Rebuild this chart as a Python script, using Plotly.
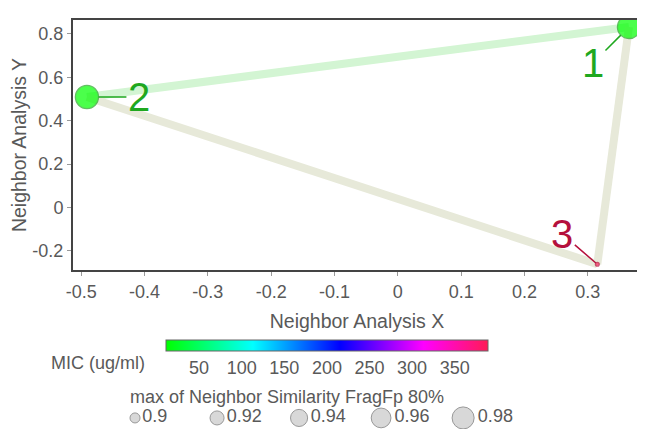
import math
import plotly.graph_objects as go

# ---- data ----
node_ids = ["1", "2", "3"]
node_x = [0.365, -0.491, 0.315]
node_y = [0.832, 0.509, -0.262]
node_mic = [11, 11, 389]              # MIC (ug/ml)
node_sim = [0.99, 0.99, 0.882]        # max of Neighbor Similarity FragFp 80%
edges = [(0, 1), (1, 2), (0, 2)]
edge_colors = ["#d3f5d3", "#e7e9d9", "#e7e9d9"]

size_legend_vals = [0.9, 0.92, 0.94, 0.96, 0.98]
x_tickvals = [-0.5, -0.4, -0.3, -0.2, -0.1, 0, 0.1, 0.2, 0.3]
y_tickvals = [-0.2, 0, 0.2, 0.4, 0.6, 0.8]
cbar_ticks = [50, 100, 150, 200, 250, 300, 350]

label_colors = ["#1fa81f", "#1fa81f", "#b5103c"]
node_line_colors = ["#22a522", "#22a522", "#b5103c"]
label_offsets = [(-36, 36), (52, 0), (-35, -30)]

FONT = "Arial, Liberation Sans, sans-serif"
GREY = "#595959"

colorscale = [[0.0, "#00ff00"], [0.27, "#00ffff"], [0.54, "#0000ff"],
              [0.80, "#ff00ff"], [1.0, "#ff1a55"]]


def diam(v):
    # bubble area proportional to (value - 0.879)
    return math.sqrt(4806 * max(v - 0.879, 0.0))


fig = go.Figure()

for (a, b), c in zip(edges, edge_colors):
    fig.add_trace(go.Scatter(x=[node_x[a], node_x[b]], y=[node_y[a], node_y[b]],
                             mode="lines", line=dict(color=c, width=8),
                             hoverinfo="skip", showlegend=False))

fig.add_trace(go.Scatter(
    x=node_x, y=node_y, mode="markers", showlegend=False,
    marker=dict(size=[diam(v) for v in node_sim], color=node_mic,
                colorscale=colorscale, cmin=min(node_mic), cmax=max(node_mic),
                line=dict(color=node_line_colors, width=1.3),
                showscale=True,
                colorbar=dict(orientation="h", x=0.447, xanchor="center",
                              y=0.208, yanchor="top", len=322, lenmode="pixels",
                              thickness=11, xpad=0, ypad=0,
                              outlinewidth=1, outlinecolor="#666",
                              tickvals=cbar_ticks, ticks="",
                              tickfont=dict(family=FONT, size=18, color=GREY))),
))

# size legend
fig.add_trace(go.Scatter(
    x=[str(v) for v in size_legend_vals], y=[0] * len(size_legend_vals),
    xaxis="x2", yaxis="y2", mode="markers+text", showlegend=False,
    text=[str(v) for v in size_legend_vals], textposition="middle right",
    textfont=dict(family=FONT, size=18, color=GREY),
    marker=dict(size=[diam(v) for v in size_legend_vals], color="#c8c8c8",
                line=dict(color="#6e6e6e", width=1)),
    hoverinfo="skip", cliponaxis=False))

annotations = []
for i in range(len(node_ids)):
    ax, ay = label_offsets[i]
    annotations.append(dict(x=node_x[i], y=node_y[i], xref="x", yref="y",
                            text=node_ids[i], showarrow=True, arrowhead=0,
                            arrowwidth=1.5, arrowcolor=label_colors[i],
                            ax=ax, ay=ay, standoff=diam(node_sim[i]) / 2,
                            font=dict(family=FONT, size=40, color=label_colors[i])))
annotations.append(dict(x=0.044, y=0.151, xref="paper", yref="paper",
                        xanchor="center", yanchor="middle",
                        text="MIC (ug/ml)", showarrow=False,
                        font=dict(family=FONT, size=18, color=GREY)))
annotations.append(dict(x=0.377, y=0.0668, xref="paper", yref="paper",
                        xanchor="center", yanchor="middle",
                        text="max of Neighbor Similarity FragFp 80%", showarrow=False,
                        font=dict(family=FONT, size=18, color=GREY)))

# page body has an 8px margin, so the figure is sized to fit the window
fig.update_layout(
    width=637, height=421,
    margin=dict(l=65, r=4, t=12, b=5, autoexpand=False),
    paper_bgcolor="white", plot_bgcolor="white",
    font=dict(family=FONT, size=18, color=GREY),
    hovermode=False,
    annotations=annotations,
    xaxis=dict(range=[-0.513, 0.384], tickvals=x_tickvals,
               ticktext=[("%g" % v) for v in x_tickvals],
               showline=True, mirror=True, linecolor="#444", linewidth=2,
               ticks="outside", ticklen=4, tickcolor="#999", showgrid=False,
               zeroline=False, anchor="y",
               title=dict(text="Neighbor Analysis X", standoff=14,
                          font=dict(family=FONT, size=19.5, color=GREY)),
               tickfont=dict(family=FONT, size=18, color=GREY)),
    yaxis=dict(range=[-0.289, 0.864], domain=[0.381, 1.0], tickvals=y_tickvals,
               ticktext=["%g" % v for v in y_tickvals],
               showline=True, mirror=True, linecolor="#444", linewidth=2,
               ticks="outside", ticklen=4, tickcolor="#999", showgrid=False,
               zeroline=False,
               title=dict(text="Neighbor Analysis Y", standoff=8,
                          font=dict(family=FONT, size=19.5, color=GREY)),
               tickfont=dict(family=FONT, size=18, color=GREY)),
    xaxis2=dict(domain=[0.037, 0.759], range=[-0.5, 4.5], type="category",
                visible=False, anchor="y2"),
    yaxis2=dict(domain=[0.0, 0.03], range=[-1, 1], visible=False, anchor="x2"),
)

fig.write_html("out.html")
